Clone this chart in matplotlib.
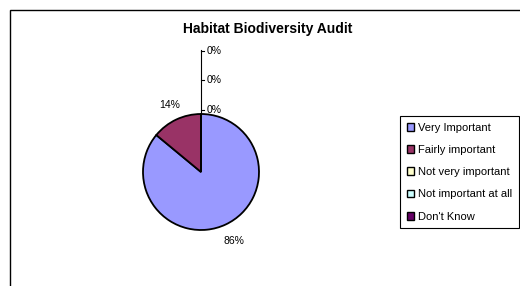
import numpy as np
import matplotlib
matplotlib.use("Agg")
import matplotlib.pyplot as plt
import matplotlib.patches as mpatches

plt.rcParams["font.family"] = ["Liberation Sans", "DejaVu Sans"]

TITLE = "Habitat Biodiversity Audit"
CATEGORIES = ["Very Important", "Fairly important", "Not very important",
              "Not important at all", "Don't Know"]
VALUES = [86, 14, 0, 0, 0]
COLORS = ["#9999FF", "#993366", "#FFFFCC", "#CCFFFF", "#660066"]

W, H = 520, 286
fig = plt.figure(figsize=(W / 100, H / 100), dpi=100)

# outer chart border (runs off the right and bottom edge, like the reference)
fig.patches.append(mpatches.Rectangle((10 / W, -0.2), 1.2, (H - 9.5) / H + 0.2,
                                      transform=fig.transFigure, fill=False,
                                      edgecolor="black", linewidth=1.0))

fig.text(268 / W, 1 - 29 / H, TITLE, ha="center", va="center",
         fontsize=10, fontweight="bold")

# pie axes: center (201,172) px, radius 58 px
cx, cy, r = 201, 172, 58
ax = fig.add_axes([(cx - r) / W, (H - cy - r) / H, 2 * r / W, 2 * r / H])
wedges, _ = ax.pie(VALUES, colors=COLORS, startangle=90, counterclock=False,
                   wedgeprops=dict(edgecolor="black", linewidth=1.3))
ax.set_xlim(-1, 1)
ax.set_ylim(-1, 1)
ax.set_aspect("equal")
ax.axis("off")

total = sum(VALUES)
zero_rank = 0
for w, v in zip(wedges, VALUES):
    pct = f"{round(100 * v / total)}%"
    if v > 0:
        ang = np.deg2rad((w.theta1 + w.theta2) / 2)
        d = 1.27 if v < 50 else 1.32
        ax.text(d * np.cos(ang), d * np.sin(ang), pct, ha="center", va="center",
                fontsize=7.5, clip_on=False)
    else:
        # zero slices sit at the top; stack their labels along a leader line
        y = 1.07 + 0.51 * zero_rank
        ax.plot([0, 0.06], [y, y], color="black", lw=0.8, clip_on=False)
        ax.text(0.1, y, pct, ha="left", va="center", fontsize=7.5, clip_on=False)
        zero_rank += 1
if zero_rank:
    ax.plot([0, 0], [1.0, 1.07 + 0.51 * (zero_rank - 1) + 0.02], color="black",
            lw=0.8, clip_on=False)

handles = [mpatches.Patch(facecolor=c, edgecolor="black", linewidth=1.0, label=l)
           for c, l in zip(COLORS, CATEGORIES)]
leg = fig.legend(handles=handles, loc="upper left",
                 bbox_to_anchor=(400 / W, 1 - 116 / H), fontsize=8,
                 frameon=True, fancybox=False, framealpha=1,
                 handlelength=0.7, handleheight=0.7, handletextpad=0.3,
                 labelspacing=1.1, borderpad=0.6, borderaxespad=0)
leg.get_frame().set_edgecolor("black")
leg.get_frame().set_linewidth(0.8)

fig.savefig("out.png", dpi=100)
